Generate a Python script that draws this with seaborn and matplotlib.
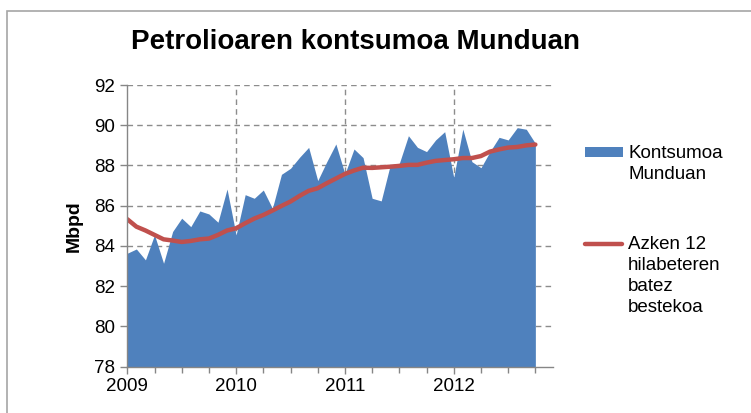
import numpy as np
import pandas as pd
import matplotlib
matplotlib.use("Agg")
import matplotlib.pyplot as plt
from matplotlib.patches import Rectangle
from matplotlib.lines import Line2D
from matplotlib.ticker import MultipleLocator
import seaborn as sns

# ---- data (monthly, Jan 2009 .. Oct 2012) ----
consumption = [83.64, 83.85, 83.31, 84.55, 83.14, 84.72, 85.38, 84.96, 85.74, 85.59, 85.18, 86.83,
               84.55, 86.55, 86.37, 86.78, 85.87, 87.56, 87.86, 88.41, 88.90, 87.25, 88.19, 89.07,
               87.58, 88.82, 88.39, 86.37, 86.24, 88.03, 88.11, 89.48, 88.90, 88.69, 89.27, 89.68,
               87.41, 89.81, 88.19, 87.89, 88.69, 89.40, 89.27, 89.88, 89.80, 89.10]
moving_avg = [85.33, 84.96, 84.77, 84.55, 84.33, 84.27, 84.20, 84.25, 84.33, 84.37, 84.55, 84.77,
              84.88, 85.13, 85.36, 85.54, 85.76, 85.99, 86.21, 86.49, 86.74, 86.87, 87.12, 87.35,
              87.58, 87.75, 87.89, 87.88, 87.91, 87.94, 87.98, 88.03, 88.03, 88.14, 88.23, 88.27,
              88.31, 88.37, 88.37, 88.47, 88.69, 88.80, 88.89, 88.92, 89.00, 89.04]
year_ticks = [2009, 2010, 2011, 2012]
y_ticks = [78, 80, 82, 84, 86, 88, 90, 92]
title = "Petrolioaren kontsumoa Munduan"
ylabel = "Mbpd"
label_area = "Kontsumoa\nMunduan"
label_line = "Azken 12\nhilabeteren\nbatez\nbestekoa"

months = np.arange(len(consumption))
df = pd.DataFrame({"x": 2009 + months / 12.0,
                   "consumption": consumption,
                   "avg": moving_avg})

BLUE = "#4F81BD"
RED = "#C0504D"
GRID = "#8C8C8C"
W, H = 751, 413

sns.set_style("white")
plt.rcParams["font.family"] = ["Liberation Sans", "DejaVu Sans"]
plt.rcParams["text.color"] = "black"
plt.rcParams["axes.labelcolor"] = "black"

fig = plt.figure(figsize=(W / 100, H / 100), dpi=100)
ax = fig.add_axes([127.3 / W, 1 - 366.7 / H, (553.5 - 127.3) / W, (366.7 - 85) / H])

ax.fill_between(df["x"], 78, df["consumption"], color=BLUE, linewidth=0, zorder=2)
sns.lineplot(data=df, x="x", y="avg", ax=ax, color=RED, linewidth=3.2, zorder=3,
             solid_capstyle="round", legend=False)

ax.set_xlim(2009, 2009 + 47 / 12.0)
ax.set_ylim(78, 92)
ax.set_xticks(year_ticks)
ax.set_xticklabels([str(y) for y in year_ticks])
ax.xaxis.set_minor_locator(MultipleLocator(0.25))
ax.set_yticks(y_ticks)
ax.set_yticklabels([str(v) for v in y_ticks])

for v in y_ticks[1:]:
    ax.axhline(v, color=GRID, linewidth=1, linestyle=(0, (4, 3)), zorder=1)
for yr in year_ticks[1:]:
    ax.axvline(yr, color=GRID, linewidth=1, linestyle=(0, (4, 3)), zorder=1)

for s in ["top", "right"]:
    ax.spines[s].set_visible(False)
for s in ["left", "bottom"]:
    ax.spines[s].set_color("#868686")
    ax.spines[s].set_linewidth(1)
    ax.spines[s].set_zorder(4)

ax.tick_params(axis="both", which="both", direction="out", color="#868686", labelsize=13.5,
               labelcolor="black")
ax.tick_params(axis="x", which="major", length=5, width=1, pad=3, bottom=True)
ax.tick_params(axis="x", which="minor", length=4, width=1, bottom=True)
ax.tick_params(axis="y", which="major", length=5, width=1, pad=4, left=True)
ax.set_xlabel("")
ax.set_ylabel(ylabel, fontsize=14, fontweight="bold", labelpad=8)

fig.text(355.5 / W, 1 - 49 / H, title, ha="center", va="baseline",
         fontsize=20, fontweight="bold")

# chart border (cropped at right/bottom)
fig.add_artist(Rectangle((7 / W, -0.1), 2.0, 1 - 11 / H + 0.1, transform=fig.transFigure,
                         fill=False, edgecolor="#A6A6A6", linewidth=1.2))

# legend (drawn manually: markers align with the first text line)
fig.add_artist(Rectangle((585 / W, 1 - 157 / H), 38 / W, 10 / H, transform=fig.transFigure,
                         facecolor=BLUE, edgecolor="none"))
fig.add_artist(Line2D([585 / W, 622 / W], [1 - 244 / H, 1 - 244 / H], transform=fig.transFigure,
                      color=RED, linewidth=3.2, solid_capstyle="round"))
fig.text(628 / W, 1 - 145 / H, label_area, ha="left", va="top", fontsize=13.5,
         linespacing=1.31)
fig.text(628 / W, 1 - 236 / H, label_line, ha="left", va="top", fontsize=13.5,
         linespacing=1.31)

fig.savefig("out.png", dpi=100)
